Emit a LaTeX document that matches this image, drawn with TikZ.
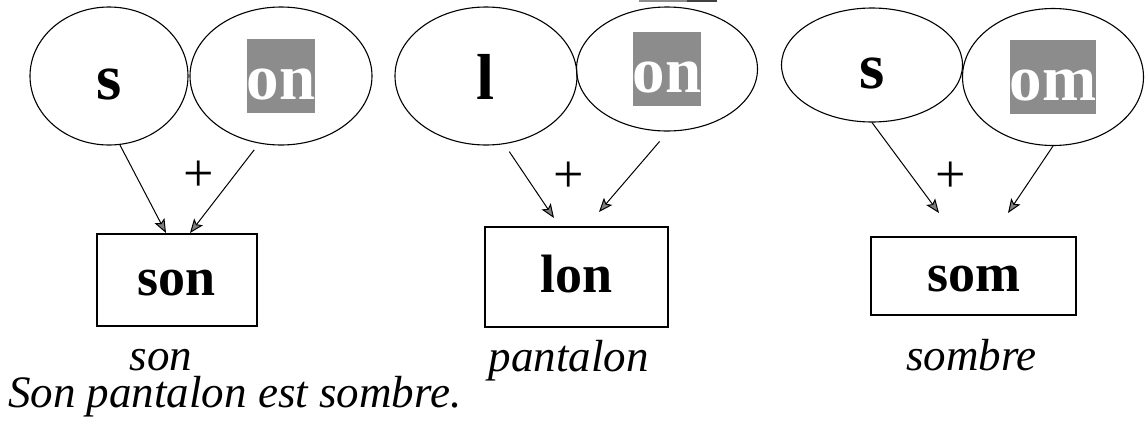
\documentclass[tikz,border=0pt]{standalone}
\usepackage{fontspec}
\setmainfont{Liberation Serif}[ItalicFont={Liberation Serif Italic},BoldFont={Liberation Serif Bold}]
\usetikzlibrary{arrows.meta,shapes.geometric}
\definecolor{hlgray}{gray}{0.55}
\newcommand{\myhl}[1]{{\setlength{\fboxsep}{0pt}\colorbox{hlgray}{\color{white}\rule[-0.22em]{0pt}{1.15em}#1}}}
\newcommand{\mystrut}{\rule[-0.22em]{0pt}{1.15em}}
\begin{document}
\begin{tikzpicture}[x=1pt,y=-1pt,
  part/.style={draw,ellipse,inner sep=0pt,line width=1.1pt,font=\bfseries\fontsize{65}{70}\selectfont},
  result/.style={draw,rectangle,inner sep=0pt,line width=1.1pt,text height=30pt,text depth=0pt,font=\bfseries\fontsize{54}{60}\selectfont},
  link/.style={line width=1pt,-{Stealth[length=14pt,width=11pt,inset=3pt,fill=black!50]}},
  plussign/.style={inner sep=0pt,font=\fontsize{54}{60}\selectfont},
  word/.style={anchor=base,inner sep=0pt,font=\itshape\fontsize{45}{50}\selectfont}]
\useasboundingbox (0,0) rectangle (1148,429);
% cropped fragment at the top edge
\fill[hlgray] (639,0) rectangle (687,2);
\fill[black!75] (687,0) rectangle (717,2);
% parts
\node[part,minimum width=158pt,minimum height=138pt] (E1) at (109,76) {\mystrut s};
\node[part,minimum width=182pt,minimum height=138pt] (E2) at (281,76) {\myhl{on}};
\node[part,minimum width=182pt,minimum height=138pt] (E3) at (486,76) {\mystrut l};
\node[part,minimum width=181pt,minimum height=124pt] (E4) at (667,69) {\myhl{on}};
\node[part,minimum width=181pt,minimum height=114pt] (E5) at (872,65) {\raisebox{-6pt}{\mystrut s}};
\node[part,minimum width=181pt,minimum height=137pt] (E6) at (1053,77) {\myhl{om}};
% results
\node[result,minimum width=160pt,minimum height=92pt] (B1) at (177,280) {son};
\node[result,minimum width=183pt,minimum height=100pt] (B2) at (576.5,277) {lon};
\node[result,minimum width=205pt,minimum height=78pt] (B3) at (973.5,276) {som};
% arrow tips
\coordinate (t1) at (166,233);
\coordinate (t2) at (190,233);
\coordinate (t3) at (554,218);
\coordinate (t4) at (599,212);
\coordinate (t5) at (939,213);
\coordinate (t6) at (1008,213);
\draw[link] (E1.-81) -- (t1);
\draw[link,shorten <=8pt] (E2.-108) -- (t2);
\draw[link,shorten <=9pt] (E3.-75) -- (t3);
\draw[link,shorten <=13pt] (E4.-89) -- (t4);
\draw[link] (E5.-90) -- (t5);
\draw[link] (E6.-90) -- (t6);
% plus signs
\node[plussign] (p1) at (199,176) {+};
\node[plussign] (p2) at (569,177) {+};
\node[plussign] (p3) at (951,177) {+};
% words
\node[word] (w1) at (161,370) {son};
\node[word] (w2) at (568.5,371) {pantalon};
\node[word] (w3) at (971.5,370) {sombre};
\node[word,anchor=base west] (sent) at (8,407) {Son pantalon est sombre.};
\end{tikzpicture}
\end{document}
